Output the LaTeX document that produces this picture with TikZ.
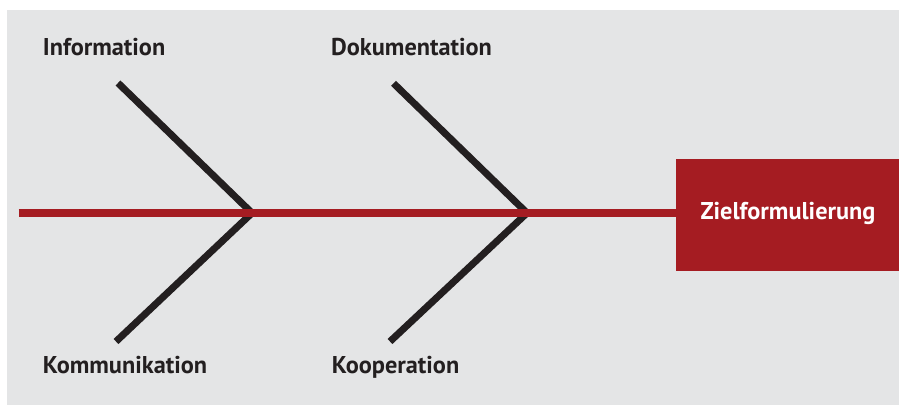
\documentclass[tikz,border=0pt]{standalone}
\usepackage{fontspec}
\setmainfont{PT Sans}
\definecolor{bggray}{HTML}{E4E5E6}
\definecolor{fishred}{HTML}{A51C22}
\definecolor{boneblack}{HTML}{231F20}
\tikzset{
  bone/.style={draw=boneblack, line width=7pt, line cap=butt},
  spine/.style={draw=fishred, line width=8pt, line cap=butt},
  catlabel/.style={anchor=base west, inner sep=0pt, text=boneblack, font=\fontsize{24.3}{27}\selectfont\bfseries},
  goalbox/.style={fill=fishred, minimum width=223pt, minimum height=112pt, inner sep=0pt, anchor=north west},
  goaltext/.style={anchor=base, inner sep=0pt, text=white, font=\fontsize{24.3}{27}\selectfont\bfseries}
}
\begin{document}
\begin{tikzpicture}[x=1pt, y=-1pt]
\useasboundingbox (0,0) rectangle (899,405);
\fill[white] (0,0) rectangle (899,405);
\fill[bggray] (7,10) rectangle (899,405);
% coordinates
\coordinate (tail) at (18.7,213);
\coordinate (apexA) at (252,213);
\coordinate (apexB) at (527,213);
\coordinate (topA) at (118,83);
\coordinate (botA) at (116,341.5);
\coordinate (topB) at (393.5,83.3);
\coordinate (botB) at (390,341.5);
% bones
\draw[bone] (topA) -- (apexA) -- (botA);
\draw[bone] (topB) -- (apexB) -- (botB);
% goal box
\node[goalbox] (goal) at (676,159) {};
\node[goaltext] (goallabel) at (788,219.3) {Zielformulierung};
% spine
\draw[spine] (tail) -- (tail -| goal.west);
% labels
\node[catlabel] (info) at (42.7,55.7) {Information};
\node[catlabel] (doku) at (331,55.7) {Dokumentation};
\node[catlabel] (komm) at (42.7,373.3) {Kommunikation};
\node[catlabel] (koop) at (331.7,373.3) {Kooperation};
\end{tikzpicture}
\end{document}
